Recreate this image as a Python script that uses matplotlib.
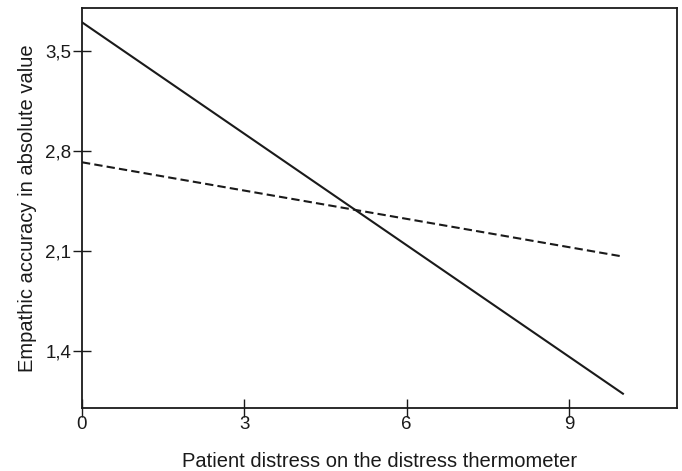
import matplotlib.pyplot as plt

plt.rcParams["font.family"] = ["Liberation Sans", "DejaVu Sans"]

# regression lines
distress = [0, 10]
accuracy_solid = [3.70, 1.10]
accuracy_dashed = [2.72, 2.06]

x_ticks = [0, 3, 6, 9]
y_ticks = [1.4, 2.1, 2.8, 3.5]
y_labels = ["1,4", "2,1", "2,8", "3,5"]

fig = plt.figure(figsize=(6.82, 4.71), dpi=100)
ax = fig.add_axes([0.1202, 0.1338, 0.8725, 0.8492])

ax.plot(distress, accuracy_solid, color="#1a1a1a", lw=1.5)
ax.plot(distress, accuracy_dashed, color="#1a1a1a", lw=1.5, ls=(0, (4, 2)))

ax.set_xlim(0, 11)
ax.set_ylim(1.0, 3.8)
ax.set_xticks(x_ticks)
ax.set_xticklabels([str(t) for t in x_ticks])
ax.set_yticks(y_ticks)
ax.set_yticklabels(y_labels)
ax.tick_params(direction="inout", length=13.5, width=1.0, labelsize=13.5,
               colors="#1a1a1a", pad=1)
ax.tick_params(axis="x", pad=-1)

for sp in ax.spines.values():
    sp.set_linewidth(1.3)
    sp.set_color("#1a1a1a")

ax.set_xlabel("Patient distress on the distress thermometer", fontsize=14.5,
              color="#1a1a1a", labelpad=14)
ax.set_ylabel("Empathic accuracy in absolute value", fontsize=14.5,
              color="#1a1a1a", labelpad=6)

fig.savefig("out.png", dpi=100)
